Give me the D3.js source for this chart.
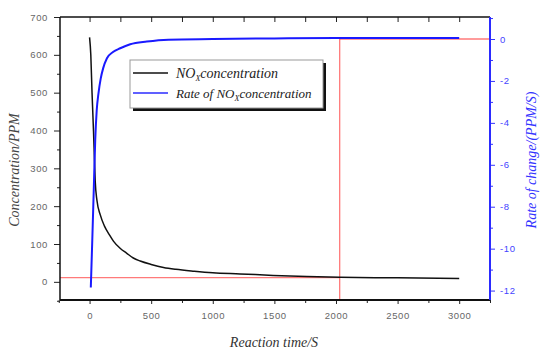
<!DOCTYPE html>
<html>
<head>
<meta charset="utf-8">
<script src="https://cdn.jsdelivr.net/npm/d3@7"></script>
<style>
  body { margin: 0; background: #fff; }
  svg { display: block; }
</style>
</head>
<body>
<div id="chart"></div>
<script>
// NOx concentration (PPM) vs reaction time (s)
const concTime = [0, 10, 20, 32, 40, 46, 60, 87, 120, 160, 195, 250, 300, 355, 411, 500, 600, 700, 850, 1000, 1221, 1490, 1762, 2030, 2500, 3000];
const concValues = [646, 600, 500, 398, 320, 265, 215, 177, 148, 125, 107, 88, 76, 63, 55, 46, 38, 33, 28, 24, 21, 17, 14, 12, 10.5, 9];

// rate of change of NOx concentration (PPM/s)
const rateTime = [10, 22, 34, 46, 58, 72, 90, 110, 141, 190, 249, 330, 465, 640, 1000, 1500, 2000, 3000];
const rateValues = [-11.85, -9.6, -7.2, -4.8, -3.4, -2.6, -1.9, -1.4, -0.92, -0.62, -0.44, -0.25, -0.12, -0.03, 0.0, 0.03, 0.05, 0.05];

// red guide lines
const markTime = 2030, markConc = 11, markRate = 0;

const xTicks = [0, 500, 1000, 1500, 2000, 2500, 3000];
const yTicks = [0, 100, 200, 300, 400, 500, 600, 700];
const rTicks = [0, -2, -4, -6, -8, -10, -12];

const width = 542, height = 352;
const mLeft = 60, mRight = 490, mTop = 17, mBottom = 300;

const svg = d3.select('#chart').append('svg')
  .attr('width', width)
  .attr('height', height);

const x = d3.scaleLinear().domain([-240, 3250]).range([mLeft, mRight]);
const y = d3.scaleLinear().domain([-48, 700]).range([mBottom, mTop]);
const yr = d3.scaleLinear().domain([-12.45, 1.05]).range([mBottom, mTop]);

const tickFont = "'Liberation Sans', Arial, sans-serif";
const titleFont = "'Liberation Serif', 'Times New Roman', serif";

// red guide lines
const red = svg.append('g').attr('stroke', '#ff4d4d').attr('stroke-opacity', 0.75).attr('stroke-width', 1.3);
red.append('line').attr('x1', mLeft).attr('x2', x(markTime)).attr('y1', y(markConc)).attr('y2', y(markConc));
red.append('line').attr('x1', x(markTime)).attr('x2', x(markTime)).attr('y1', mBottom).attr('y2', yr(markRate));
red.append('line').attr('x1', x(markTime)).attr('x2', mRight).attr('y1', yr(markRate)).attr('y2', yr(markRate));

// curves
const concLine = d3.line().x((d, i) => x(concTime[i])).y(d => y(d)).curve(d3.curveMonotoneX);
svg.append('path').datum(concValues)
  .attr('d', concLine).attr('fill', 'none').attr('stroke', '#111').attr('stroke-width', 1.5);

const rateLine = d3.line().x((d, i) => x(rateTime[i])).y(d => yr(d)).curve(d3.curveMonotoneX);
svg.append('path').datum(rateValues)
  .attr('d', rateLine).attr('fill', 'none').attr('stroke', '#1a1aff').attr('stroke-width', 2);

// left axis
const yAxis = svg.append('g').attr('transform', `translate(${mLeft},0)`)
  .call(d3.axisLeft(y).tickValues(yTicks).tickSize(6).tickPadding(6).tickFormat(d3.format('d')));
yAxis.append('g').call(d3.axisLeft(y).tickValues(d3.range(-50, 701, 50).filter(v => v % 100 !== 0)).tickSize(3).tickFormat(''));
yAxis.selectAll('.domain').remove();
svg.append('line').attr('x1', mLeft).attr('x2', mLeft).attr('y1', mTop).attr('y2', mBottom).attr('stroke', '#111').attr('stroke-width', 1.5);

// bottom axis
const xAxis = svg.append('g').attr('transform', `translate(0,${mBottom})`)
  .call(d3.axisBottom(x).tickValues(xTicks).tickSize(4).tickPadding(8).tickFormat(d3.format('d')));
xAxis.append('g').call(d3.axisBottom(x).tickValues(d3.range(-250, 3251, 250).filter(v => v % 500 !== 0)).tickSize(3).tickFormat(''));
xAxis.selectAll('.domain').remove();
svg.append('line').attr('x1', mLeft).attr('x2', mRight).attr('y1', mBottom).attr('y2', mBottom).attr('stroke', '#111').attr('stroke-width', 2);

// top frame with inward ticks
const topAxis = svg.append('g').attr('transform', `translate(0,${mTop})`)
  .call(d3.axisBottom(x).tickValues(d3.range(0, 3001, 250)).tickSize(5).tickFormat(''));
topAxis.selectAll('.domain').remove();
svg.append('line').attr('x1', mLeft).attr('x2', mRight).attr('y1', mTop).attr('y2', mTop).attr('stroke', '#111').attr('stroke-width', 1.5);

[yAxis, xAxis, topAxis].forEach(g => {
  g.selectAll('line').attr('stroke', '#222');
  g.selectAll('text').attr('fill', '#666').style('font-family', tickFont).style('font-size', '9.5px').style('letter-spacing', '0.6px');
});

// right axis (rate)
const rAxis = svg.append('g').attr('transform', `translate(${mRight},0)`)
  .call(d3.axisRight(yr).tickValues(rTicks).tickSize(5).tickPadding(5).tickFormat(d => d === 0 ? '0' : '-' + Math.abs(d)));
rAxis.append('g').call(d3.axisRight(yr).tickValues([1, -1, -3, -5, -7, -9, -11]).tickSize(3).tickFormat(''));
rAxis.selectAll('.domain').remove();
rAxis.selectAll('line').attr('stroke', '#3333ff');
rAxis.selectAll('text').attr('fill', '#4444ff').style('font-family', tickFont).style('font-size', '9.5px').style('letter-spacing', '0.6px');
svg.append('line').attr('x1', mRight).attr('x2', mRight).attr('y1', mTop).attr('y2', mBottom).attr('stroke', '#2b2bff').attr('stroke-width', 2);

// axis titles
svg.append('text')
  .attr('transform', 'translate(19,170) rotate(-90)')
  .attr('text-anchor', 'middle')
  .style('font-family', titleFont).style('font-style', 'italic').style('font-size', '14px')
  .attr('fill', '#444')
  .text('Concentration/PPM');

svg.append('text')
  .attr('x', 274).attr('y', 347)
  .attr('text-anchor', 'middle')
  .style('font-family', titleFont).style('font-style', 'italic').style('font-size', '14px')
  .attr('fill', '#333')
  .text('Reaction time/S');

svg.append('text')
  .attr('transform', 'translate(536,160) rotate(-90)')
  .attr('text-anchor', 'middle')
  .style('font-family', titleFont).style('font-style', 'italic').style('font-size', '14px')
  .attr('fill', '#3333ff')
  .text('Rate of change/(PPM/S)');

// legend
const legend = svg.append('g').attr('transform', 'translate(130,60)');
legend.append('rect').attr('x', 3).attr('y', 3).attr('width', 193).attr('height', 48).attr('fill', '#111');
legend.append('rect').attr('x', 0).attr('y', 0).attr('width', 193).attr('height', 48)
  .attr('fill', '#fff').attr('stroke', '#999').attr('stroke-width', 1);

const entries = [
  {color: '#111', lead: '', size: 14},
  {color: '#2b2bff', lead: 'Rate of ', size: 13}
];
entries.forEach((e, i) => {
  const yy = 13 + i * 20;
  legend.append('line').attr('x1', 3).attr('x2', 38).attr('y1', yy).attr('y2', yy)
    .attr('stroke', e.color).attr('stroke-width', 1.5);
  const t = legend.append('text').attr('x', 46).attr('y', yy + 5)
    .style('font-family', titleFont).style('font-style', 'italic').style('font-size', e.size + 'px')
    .attr('fill', '#222');
  t.append('tspan').text(e.lead + 'NO');
  t.append('tspan').attr('dy', 3).style('font-size', '8px').text('X');
  t.append('tspan').attr('dy', -3).text('concentration');
});
</script>
</body>
</html>
